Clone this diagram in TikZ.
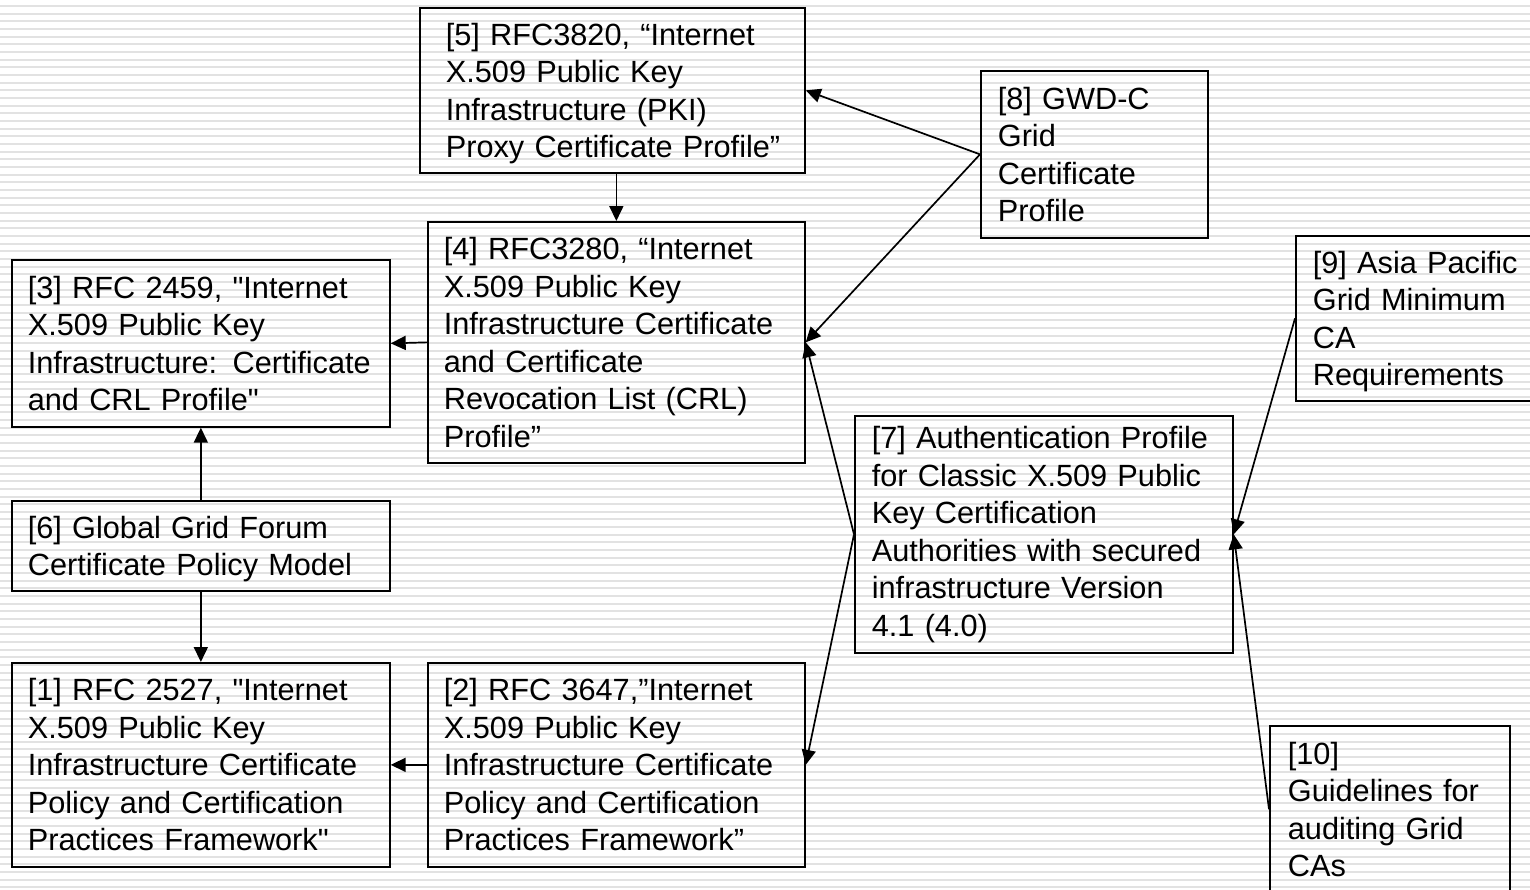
\documentclass[tikz,border=0pt]{standalone}
\usepackage{fontspec}
\setmainfont{Liberation Sans}[Ligatures=TeXOff]
\usetikzlibrary{arrows.meta}
\definecolor{stripe}{RGB}{226,226,226}
\newcommand{\rline}[1]{\mbox{#1}}
\newcommand{\rlast}[1]{\raisebox{0pt}[\height][0pt]{#1}}
\tikzset{
  refbox/.style={draw=black, line width=1.7pt, rectangle, anchor=north west,
    align=left, font=\fontsize{30.7}{37.5}\selectfont, inner ysep=0pt},
  conn/.style={line width=1.7pt, -{Triangle[length=15pt,width=14pt]}},
}
\newcommand{\rbox}[7]{% name, x1, y1, x2, y2, pad, text
  \pgfmathsetmacro{\bh}{#5-#3}\pgfmathsetmacro{\tw}{#4-#2-2*#6}
  \node[refbox, inner xsep=#6pt, text width=\tw pt, minimum height=\bh pt] (#1) at (#2,#3) {#7};
}
\begin{document}
\begin{tikzpicture}[x=1pt,y=-1pt]
\useasboundingbox (0,0) rectangle (1530,889);
\clip (0,0) rectangle (1530,889);
\fill[white] (0,0) rectangle (1530,889);
\foreach \i in {0,...,116} {
  \draw[stripe, line width=2pt] (0,{6+7.664*\i}) -- (1530,{6+7.664*\i});
}
\rbox{b5}{419}{7}{804}{172}{26}{\rline{[5] RFC3820, “Internet}\\\rline{X.509 Public Key}\\\rline{Infrastructure (PKI)}\\\rlast{Proxy Certificate Profile”}}
\rbox{b4}{427}{221}{804}{462}{16}{\rline{[4] RFC3280, “Internet}\\\rline{X.509 Public Key}\\\rline{Infrastructure Certificate}\\\rline{and Certificate}\\\rline{Revocation List (CRL)}\\\rline{Profile”}}
\rbox{b3}{11}{259}{389}{426}{16}{\rline{[3] RFC 2459, "Internet}\\\rline{X.509 Public Key}\\\rline{Infrastructure: Certificate}\\\rline{and CRL Profile"}}
\rbox{b6}{11}{500}{389}{590}{16}{\rline{[6] Global Grid Forum}\\\rlast{Certificate Policy Model}}
\rbox{b1}{11}{662}{389}{866}{16}{\rline{[1] RFC 2527, "Internet}\\\rline{X.509 Public Key}\\\rline{Infrastructure Certificate}\\\rline{Policy and Certification}\\\rline{Practices Framework"}}
\rbox{b2}{427}{662}{804}{866}{16}{\rline{[2] RFC 3647,”Internet}\\\rline{X.509 Public Key}\\\rline{Infrastructure Certificate}\\\rline{Policy and Certification}\\\rline{Practices Framework”}}
\rbox{b8}{980}{70}{1207}{237}{17}{\rline{[8] GWD-C}\\\rline{Grid}\\\rline{Certificate}\\\rline{Profile}}
\rbox{b7}{854}{415}{1232}{652}{17}{\rline{[7] Authentication Profile}\\\rline{for Classic X.509 Public}\\\rline{Key Certification}\\\rline{Authorities with secured}\\\rline{infrastructure Version}\\\rline{4.1 (4.0)}}
\rbox{b9}{1295}{235}{1550}{400}{17}{\rline{[9] Asia Pacific}\\\rline{Grid Minimum}\\\rline{CA}\\\rlast{Requirements}}
\rbox{b10}{1269}{725}{1509}{892}{18}{\rline{[10]}\\\rline{Guidelines for}\\\rline{auditing Grid}\\\rline{CAs}}
% connectors
\draw[conn] (b4.north |- b5.south) -- (b4.north);
\draw[conn] (b4.west) -- (b3.east);
\draw[conn] (b6.north) -- (b3.south);
\draw[conn] (b6.south) -- (b1.north);
\draw[conn] (b2.west) -- (b1.east);
\draw[conn] (b8.west) -- (b5.east);
\draw[conn] (b8.west) -- (b4.east);
\draw[conn] (b7.west) -- (b4.east);
\draw[conn] (b7.west) -- (b2.east);
\draw[conn] (b9.west) -- (b7.east);
\draw[conn] (b10.west) -- (b7.east);
\end{tikzpicture}
\end{document}
